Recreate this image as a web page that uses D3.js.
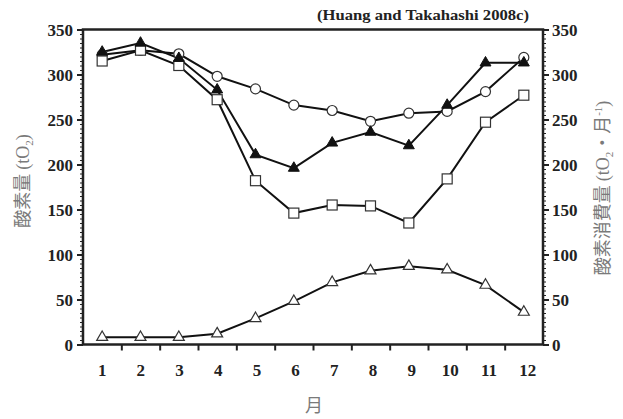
<!DOCTYPE html>
<html>
<head>
<meta charset="utf-8">
<script src="https://cdn.jsdelivr.net/npm/d3@7"></script>
<style>
  html, body { margin: 0; padding: 0; background: #fff; }
  svg { display: block; }
  .tick text { font-family: "Liberation Serif", "Times New Roman", serif; font-weight: bold; }
</style>
</head>
<body>
<svg id="chart" width="623" height="419"></svg>
<script>
// Months on the x axis
const months = [1, 2, 3, 4, 5, 6, 7, 8, 9, 10, 11, 12];
// Oxygen amount series (tO2), left axis
const circleSeries   = [322, 327, 323, 298, 284, 266, 260, 248, 257, 259, 281, 319];
const filledTriSeries = [325, 335, 318, 283, 211, 196, 224, 236, 221, 266, 313, 313];
const squareSeries   = [315, 327, 310, 272, 182, 146, 155, 154, 135, 184, 247, 277];
// Oxygen consumption (tO2 per month), right axis
const openTriSeries  = [8, 8, 8, 12, 29, 48, 69, 82, 87, 83, 66, 36];
// Axis ticks
const yTicks = [0, 50, 100, 150, 200, 250, 300, 350];

const svg = d3.select("#chart");
const plot = { left: 83, right: 543, top: 29.5, bottom: 344.5 };

const x = d3.scaleLinear().domain([0.5, 12.5]).range([plot.left, plot.right]);
const yL = d3.scaleLinear().domain([0, 350]).range([plot.bottom, plot.top]);
const yR = d3.scaleLinear().domain([0, 350]).range([plot.bottom, plot.top]);

const serif = '"Liberation Serif", "Times New Roman", serif';
const cjk = '"Noto Sans CJK JP", "Noto Sans CJK SC", sans-serif';
const titleGrey = "#7a7a7a";

// Minor ticks every 5 units on both y axes
const minor = d3.range(0, 351, 5);
svg.append("g").attr("transform", `translate(${plot.left},0)`)
  .call(d3.axisLeft(yL).tickValues(minor).tickSize(3).tickFormat(""))
  .call(g => g.select(".domain").remove())
  .selectAll("line").attr("stroke", "#222").attr("stroke-width", 1);
svg.append("g").attr("transform", `translate(${plot.right},0)`)
  .call(d3.axisRight(yR).tickValues(minor).tickSize(3).tickFormat(""))
  .call(g => g.select(".domain").remove())
  .selectAll("line").attr("stroke", "#222").attr("stroke-width", 1);

// Major left axis
const gL = svg.append("g").attr("transform", `translate(${plot.left},0)`)
  .call(d3.axisLeft(yL).tickValues(yTicks).tickSize(6).tickPadding(4).tickSizeOuter(0));
gL.select(".domain").remove();
gL.selectAll("line").attr("stroke", "#222").attr("stroke-width", 2);
gL.selectAll("text").attr("font-size", 17).attr("fill", "#222").attr("dy", "0.36em");

// Major right axis
const gR = svg.append("g").attr("transform", `translate(${plot.right},0)`)
  .call(d3.axisRight(yR).tickValues(yTicks).tickSize(6).tickPadding(3).tickSizeOuter(0));
gR.select(".domain").remove();
gR.selectAll("line").attr("stroke", "#222").attr("stroke-width", 2);
gR.selectAll("text").attr("font-size", 17).attr("fill", "#222").attr("dy", "0.36em");

// Bottom axis: ticks between months, labels at months
const gB = svg.append("g").attr("transform", `translate(0,${plot.bottom})`)
  .call(d3.axisBottom(x).tickValues(d3.range(1.5, 12.5, 1)).tickSize(6).tickFormat(""));
gB.select(".domain").remove();
gB.selectAll("line").attr("stroke", "#222").attr("stroke-width", 2);
svg.append("g").selectAll("text").data(months).join("text")
  .attr("x", d => x(d) + (d - 1) * 0.35)
  .attr("y", 376)
  .attr("text-anchor", "middle")
  .attr("font-family", serif).attr("font-weight", "bold").attr("font-size", 17)
  .attr("fill", "#222")
  .text(d => d);

// Frame: left, right, bottom, top
svg.append("rect")
  .attr("x", plot.left).attr("y", plot.top)
  .attr("width", plot.right - plot.left).attr("height", plot.bottom - plot.top)
  .attr("fill", "none").attr("stroke", "#222").attr("stroke-width", 2.5);

// Series lines
const line = (ys) => d3.line().x((d, i) => x(months[i])).y(d => ys(d));
function drawLine(data, ys) {
  svg.append("path").datum(data)
    .attr("d", line(ys))
    .attr("fill", "none").attr("stroke", "#111").attr("stroke-width", 2);
}
drawLine(circleSeries, yL);
drawLine(squareSeries, yL);
drawLine(filledTriSeries, yL);
drawLine(openTriSeries, yR);

// Markers
const triPath = d3.symbol().type(d3.symbolTriangle).size(52);
function markers(data, ys, kind) {
  const g = svg.append("g");
  data.forEach((v, i) => {
    const cx = x(months[i]), cy = ys(v);
    if (kind === "circle") {
      g.append("circle").attr("cx", cx).attr("cy", cy).attr("r", 5)
        .attr("fill", "#fff").attr("stroke", "#333").attr("stroke-width", 1.2);
    } else if (kind === "square") {
      g.append("rect").attr("x", cx - 5).attr("y", cy - 5).attr("width", 10).attr("height", 10)
        .attr("fill", "#fff").attr("stroke", "#333").attr("stroke-width", 1.2);
    } else if (kind === "filledTri") {
      g.append("path").attr("d", triPath()).attr("transform", `translate(${cx},${cy})`)
        .attr("fill", "#111").attr("stroke", "#111").attr("stroke-width", 1);
    } else {
      g.append("path").attr("d", triPath()).attr("transform", `translate(${cx},${cy})`)
        .attr("fill", "#fff").attr("stroke", "#333").attr("stroke-width", 1.2);
    }
  });
}
markers(circleSeries, yL, "circle");
markers(squareSeries, yL, "square");
markers(openTriSeries, yR, "openTri");
markers(filledTriSeries, yL, "filledTri");

// Source note
svg.append("text")
  .attr("x", 317).attr("y", 20)
  .attr("font-family", serif).attr("font-weight", "bold").attr("font-size", 14)
  .attr("textLength", 212).attr("lengthAdjust", "spacingAndGlyphs")
  .attr("fill", "#222")
  .text("(Huang and Takahashi 2008c)");

// Axis titles: CJK words plus serif units
const leftTitle = svg.append("text")
  .attr("transform", "translate(29,181) rotate(-90)")
  .attr("text-anchor", "middle")
  .attr("font-family", cjk).attr("font-size", 18).attr("fill", titleGrey);
leftTitle.append("tspan").text("酸素量 ");
leftTitle.append("tspan").attr("font-family", serif).text("(tO");
leftTitle.append("tspan").attr("font-family", serif).attr("font-size", 11).attr("dy", 4).text("2");
leftTitle.append("tspan").attr("font-family", serif).attr("dy", -4).text(")");

const rightTitle = svg.append("text")
  .attr("transform", "translate(609,188) rotate(-90)")
  .attr("text-anchor", "middle")
  .attr("font-family", cjk).attr("font-size", 18).attr("fill", titleGrey);
rightTitle.append("tspan").text("酸素消費量 ");
rightTitle.append("tspan").attr("font-family", serif).text("(tO");
rightTitle.append("tspan").attr("font-family", serif).attr("font-size", 11).attr("dy", 4).text("2");
rightTitle.append("tspan").attr("dy", -4).text("・月");
rightTitle.append("tspan").attr("font-family", serif).attr("font-size", 11).attr("dy", -7).text("-1");
rightTitle.append("tspan").attr("font-family", serif).attr("dy", 7).text(")");

svg.append("text")
  .attr("x", 314).attr("y", 412)
  .attr("text-anchor", "middle")
  .attr("font-family", cjk).attr("font-size", 18).attr("fill", titleGrey)
  .text("月");
</script>
</body>
</html>
